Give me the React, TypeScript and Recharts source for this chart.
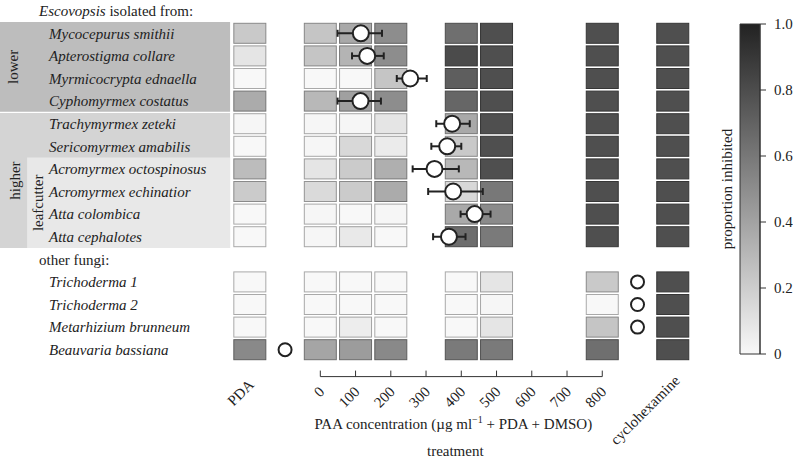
import {
  ScatterChart,
  Scatter,
  XAxis,
  YAxis,
  ErrorBar,
  ReferenceArea,
  ReferenceLine,
  BarChart,
  Bar,
} from 'recharts';

const FONT = "'Liberation Serif', 'Times New Roman', serif";
const INK = '#222';

// x position of each treatment column (PDA and cyclohexamine sit outside the PAA range)
const treatmentX = [-200, 0, 100, 200, 400, 500, 800, 1000];
const axisTicks = [-200, 0, 100, 200, 300, 400, 500, 600, 700, 800, 1000];

const escovopsisHosts = [
  'Mycocepurus smithii',
  'Apterostigma collare',
  'Myrmicocrypta ednaella',
  'Cyphomyrmex costatus',
  'Trachymyrmex zeteki',
  'Sericomyrmex amabilis',
  'Acromyrmex octospinosus',
  'Acromyrmex echinatior',
  'Atta colombica',
  'Atta cephalotes',
];
const otherFungi = ['Trichoderma 1', 'Trichoderma 2', 'Metarhizium brunneum', 'Beauvaria bassiana'];

// proportion inhibited per treatment: 10 Escovopsis strains, then the 4 other fungi
const pda = [0.22, 0.09, 0, 0.36, 0.01, 0, 0.28, 0.21, 0, 0, 0, 0, 0, 0.52];
const c0 = [0.24, 0.24, 0, 0.3, 0.01, 0.01, 0.09, 0.14, 0.01, 0.01, 0, 0, 0, 0.39];
const c100 = [0.37, 0.32, 0, 0.41, 0.01, 0.15, 0.21, 0.21, 0, 0.07, 0, 0, 0.05, 0.43];
const c200 = [0.5, 0.5, 0.24, 0.5, 0.09, 0.06, 0.34, 0.36, 0.01, 0, 0, 0, 0, 0.52];
const c400 = [0.64, 0.81, 0.72, 0.68, 0.37, 0.22, 0.3, 0.15, 0.37, 0.65, 0, 0, 0, 0.59];
const c500 = [0.79, 0.79, 0.79, 0.79, 0.79, 0.79, 0.79, 0.6, 0.51, 0.59, 0.09, 0.01, 0.09, 0.59];
const c800 = [0.79, 0.79, 0.79, 0.79, 0.79, 0.79, 0.79, 0.79, 0.79, 0.79, 0.22, 0, 0.24, 0.64];
const cyclo = [0.79, 0.79, 0.79, 0.79, 0.79, 0.79, 0.79, 0.79, 0.79, 0.79, 0.79, 0.79, 0.79, 0.79];

// IC50 estimates (µg/ml) with interval ends, Escovopsis strains only
const ic50 = [115, 133, 255, 114, 374, 360, 324, 377, 438, 365];
const ciLow = [49, 90, 217, 49, 329, 315, 262, 306, 398, 320];
const ciHigh = [175, 180, 302, 172, 424, 400, 393, 461, 483, 412];

// other fungi: marker placed beyond the tested range (>800 or <0)
const otherMarkerX = [900, 900, 900, -100];

const rowOf = (i: number) => (i < 10 ? i : i + 1);
const grey = (v: number) => {
  const g = Math.round(248 - 214 * v);
  return `rgb(${g},${g},${g})`;
};
const edge = (v: number) => {
  const g = Math.round((248 - 214 * v) * 0.68);
  return `rgb(${g},${g},${g})`;
};

const columns = [pda, c0, c100, c200, c400, c500, c800, cyclo];
const cells = columns.flatMap((col, j) => col.map((v, i) => ({ x: treatmentX[j], row: rowOf(i), v })));
const icData = ic50.map((x, i) => ({ x, row: i, err: [x - ciLow[i], ciHigh[i] - x] }));
const otherData = otherMarkerX.map((x, i) => ({ x, row: 11 + i }));
const rowTicks = Array.from({ length: 16 }, (_, i) => i - 1);

const CellShape = (props: any) => {
  const { cx, cy, payload } = props;
  return (
    <rect x={cx - 16} y={cy - 10} width={32} height={20} fill={grey(payload.v)} stroke={edge(payload.v)} strokeWidth={1} />
  );
};

const RowTick = (props: any) => {
  const { x, y, payload } = props;
  const r = payload.value;
  const common = { y, dy: '0.35em', fontFamily: FONT, fontSize: 15, fill: INK, textAnchor: 'start' as const };
  if (r === -1) {
    return (
      <text x={x + 38} {...common}>
        <tspan fontStyle="italic">Escovopsis</tspan> isolated from:
      </text>
    );
  }
  if (r === 10) {
    return (
      <text x={x + 38} {...common}>
        other fungi:
      </text>
    );
  }
  const name = r < 10 ? escovopsisHosts[r] : otherFungi[r - 11];
  return (
    <text x={x + 48} {...common} fontStyle="italic">
      {name}
    </text>
  );
};

const TreatmentTick = (props: any) => {
  const { x, y, payload } = props;
  const v = payload.value;
  const style = { fontFamily: FONT, fontSize: 15, fill: INK };
  if (v === -200 || v === 1000) {
    const tx = v === -200 ? x + 5 : x + 8;
    const ty = v === -200 ? y + 9 : y + 5;
    return (
      <text x={tx} y={ty} textAnchor="end" transform={`rotate(-45, ${tx}, ${ty})`} {...style}>
        {v === -200 ? 'PDA' : 'cyclohexamine'}
      </text>
    );
  }
  const tx = x + 5;
  const ty = y + 16;
  return (
    <g>
      <line x1={x} y1={y} x2={x} y2={y - 6} stroke="#333" strokeWidth={1} />
      <text x={tx} y={ty} textAnchor="end" transform={`rotate(-45, ${tx}, ${ty})`} {...style}>
        {v}
      </text>
    </g>
  );
};

const renderTitles = (props: any) => {
  const vb = props.viewBox ?? props;
  const cx = vb.x + vb.width / 2;
  return (
    <g fontFamily={FONT} fontSize={15} fill={INK}>
      <text x={cx - 8} y={vb.y + 52} textAnchor="middle">
        PAA concentration (µg ml
        <tspan fontSize={10} dy={-6}>
          −1
        </tspan>
        <tspan dy={6}> + PDA + DMSO)</tspan>
      </text>
      <text x={cx - 6} y={vb.y + 79} textAnchor="middle">
        treatment
      </text>
    </g>
  );
};

const groupLabel = (text: string, dx: number) => (props: any) => {
  const vb = props.viewBox ?? props;
  const tx = vb.x + dx;
  const ty = vb.y + vb.height / 2;
  return (
    <text
      x={tx}
      y={ty}
      textAnchor="middle"
      dominantBaseline="central"
      transform={`rotate(-90, ${tx}, ${ty})`}
      fontFamily={FONT}
      fontSize={15}
      fill={INK}
    >
      {text}
    </text>
  );
};

const barTicks = [0, 0.2, 0.4, 0.6, 0.8, 1];
const colorbarData = [{ name: 'scale', v: 1 }];

const ColorBar = () => (
  <BarChart
    width={93}
    height={460}
    data={colorbarData}
    margin={{ top: 24, right: 0, bottom: 106, left: 0 }}
    barCategoryGap={0}
  >
    <defs>
      <linearGradient id="pgrad" x1="0" y1="0" x2="0" y2="1">
        <stop offset="0" stopColor={grey(1)} />
        <stop offset="1" stopColor={grey(0)} />
      </linearGradient>
    </defs>
    <XAxis dataKey="name" hide />
    <YAxis
      yAxisId="l"
      orientation="left"
      width={40}
      domain={[0, 1]}
      tick={false}
      axisLine={false}
      tickLine={false}
      label={{
        value: 'proportion inhibited',
        angle: -90,
        position: 'center',
        dx: 7,
        style: { fontFamily: FONT, fontSize: 15, fill: INK },
      }}
    />
    <YAxis
      yAxisId="r"
      orientation="right"
      width={33}
      domain={[0, 1]}
      ticks={barTicks}
      interval={0}
      tickSize={6}
      tickMargin={8}
      stroke="#333"
      tickFormatter={(v: number) => (v === 0 ? '0' : v.toFixed(1))}
      tick={{ fontFamily: FONT, fontSize: 15, fill: INK }}
    />
    <Bar yAxisId="r" dataKey="v" fill="url(#pgrad)" stroke="#333" strokeWidth={1} isAnimationActive={false} />
  </BarChart>
);

export default function App() {
  return (
    <div style={{ position: 'absolute', left: 0, top: 0, width: 793, height: 460, background: '#fff' }}>
      <div style={{ position: 'absolute', left: 0, top: 0 }}>
        <ScatterChart width={708} height={460} margin={{ top: 10.7, right: 0, bottom: 0, left: 0 }}>
          <YAxis
            type="number"
            dataKey="row"
            domain={[-1, 15.19]}
            allowDataOverflow
            reversed
            ticks={rowTicks}
            interval={0}
            width={1}
            tickSize={0}
            tickMargin={0}
            axisLine={false}
            tickLine={false}
            tick={<RowTick />}
          />
          <XAxis
            type="number"
            dataKey="x"
            domain={[-906, 1100]}
            allowDataOverflow
            ticks={axisTicks}
            interval={0}
            height={83.4}
            tickSize={0}
            tickMargin={0}
            axisLine={false}
            tickLine={false}
            tick={<TreatmentTick />}
          />
          <ReferenceArea x1={-909} x2={-256} y1={-0.5} y2={3.47} fill="#bdbdbd" fillOpacity={1} stroke="none" ifOverflow="visible" zIndex={50} label={groupLabel('lower', 13)} />
          <ReferenceArea x1={-909} x2={-256} y1={3.53} y2={9.5} fill="#d4d4d4" fillOpacity={1} stroke="none" ifOverflow="visible" zIndex={50} label={groupLabel('higher', 15)} />
          <ReferenceArea x1={-832} x2={-256} y1={5.5} y2={9.5} fill="#e8e8e8" fillOpacity={1} stroke="none" ifOverflow="visible" zIndex={60} label={groupLabel('leafcutter', 11)} />
          <Scatter data={cells} shape={<CellShape />} isAnimationActive={false} zIndex={300} />
          <Scatter
            data={icData}
            isAnimationActive={false}
            zIndex={650}
            shape={(p: any) => <circle cx={p.cx} cy={p.cy} r={8} fill="#fff" stroke={INK} strokeWidth={2} />}
          >
            <ErrorBar dataKey="err" direction="x" width={3.5} stroke={INK} strokeWidth={2} zIndex={550} />
          </Scatter>
          <Scatter
            data={otherData}
            isAnimationActive={false}
            zIndex={650}
            shape={(p: any) => <circle cx={p.cx} cy={p.cy} r={6.5} fill="#fff" stroke={INK} strokeWidth={2} />}
          />
          <ReferenceLine
            segment={[
              { x: 0, y: 15.19 },
              { x: 800, y: 15.19 },
            ]}
            stroke="#333"
            strokeWidth={1}
            ifOverflow="visible"
            label={renderTitles}
          />
        </ScatterChart>
      </div>
      <div style={{ position: 'absolute', left: 700, top: 0 }}>
        <ColorBar />
      </div>
    </div>
  );
}
